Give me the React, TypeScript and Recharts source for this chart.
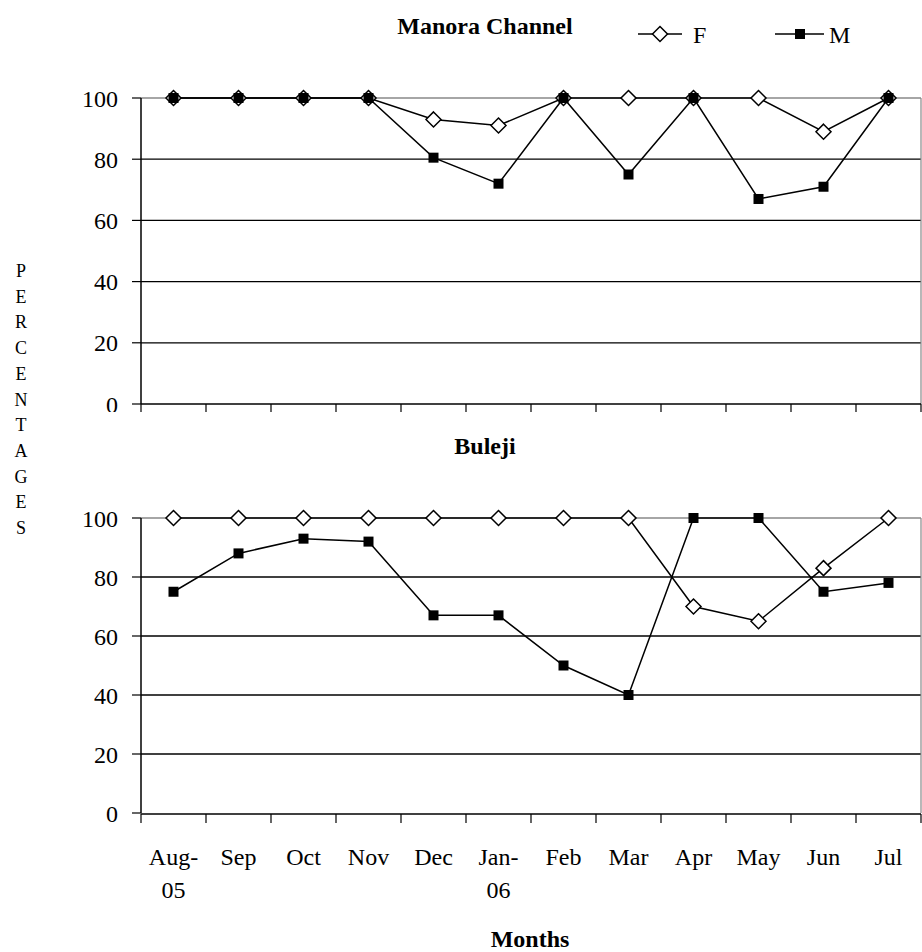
import React from 'react';
import { LineChart, Line, XAxis, YAxis, ReferenceLine } from 'recharts';

const months = ['Aug-\n05', 'Sep', 'Oct', 'Nov', 'Dec', 'Jan-\n06', 'Feb', 'Mar', 'Apr', 'May', 'Jun', 'Jul'];
const manoraF = [100, 100, 100, 100, 93, 91, 100, 100, 100, 100, 89, 100];
const manoraM = [100, 100, 100, 100, 80.5, 72, 100, 75, 100, 67, 71, 100];
const bulejiF = [100, 100, 100, 100, 100, 100, 100, 100, 70, 65, 83, 100];
const bulejiM = [75, 88, 93, 92, 67, 67, 50, 40, 100, 100, 75, 78];
const yTicks = [0, 20, 40, 60, 80, 100];
const gridValues = [20, 40, 60, 80];
const topValue = 100;
const boundaryTicks = months.map((_, i) => i).concat([months.length]);
const labelTicks = months.map((_, i) => i + 0.5);
const yLabel = 'PERCENTAGES';

const FONT = '"Liberation Serif", "Times New Roman", serif';

const build = (f: number[], m: number[]) =>
  months.map((label, i) => ({ x: i + 0.5, label, F: f[i], M: m[i] }));

const Diamond = (props: any) => {
  const { cx, cy, index } = props;
  if (cx == null || cy == null) return <g key={'d' + index} />;
  const r = 7.5;
  return (
    <path
      key={'d' + index}
      d={`M${cx},${cy - r} L${cx + r},${cy} L${cx},${cy + r} L${cx - r},${cy} Z`}
      fill="#fff"
      stroke="#000"
      strokeWidth={1.5}
    />
  );
};

const Square = (props: any) => {
  const { cx, cy, index } = props;
  if (cx == null || cy == null) return <g key={'s' + index} />;
  const r = 5;
  return <rect key={'s' + index} x={cx - r} y={cy - r} width={2 * r} height={2 * r} fill="#000" />;
};

const MonthTick = (props: any) => {
  const { x, y, payload } = props;
  const idx = Math.round(payload.value - 0.5);
  const lines = (months[idx] || '').split('\n');
  return (
    <text x={x} y={y} textAnchor="middle" fill="#000" fontSize={24} fontFamily={FONT}>
      {lines.map((l, i) => (
        <tspan key={i} x={x} dy={i === 0 ? 52 : 33}>
          {l}
        </tspan>
      ))}
    </text>
  );
};

function Panel({ data, height, margin, showLabels }: any) {
  return (
    <LineChart width={922} height={height} data={data} margin={margin}>
      {showLabels && (
        <XAxis
          xAxisId="l"
          dataKey="x"
          type="number"
          domain={[0, months.length]}
          ticks={labelTicks}
          tick={<MonthTick />}
          tickSize={0}
          tickMargin={0}
          axisLine={false}
          tickLine={false}
          height={1}
          interval={0}
        />
      )}
      <XAxis
        xAxisId="t"
        dataKey="x"
        type="number"
        domain={[0, months.length]}
        ticks={boundaryTicks}
        tickFormatter={() => ''}
        tickSize={9}
        height={10}
        axisLine={{ stroke: '#000', strokeWidth: 1.5 }}
        tickLine={{ stroke: '#000', strokeWidth: 1.2 }}
        interval={0}
      />
      <YAxis
        type="number"
        domain={[0, 100]}
        ticks={yTicks}
        interval={0}
        width={60}
        tickSize={9}
        tickMargin={14}
        axisLine={{ stroke: '#000', strokeWidth: 1.5 }}
        tickLine={{ stroke: '#000', strokeWidth: 1.2 }}
        tick={{ fill: '#000', fontSize: 24, fontFamily: FONT }}
      />
      {gridValues.map((v) => (
        <ReferenceLine key={v} xAxisId="t" y={v} stroke="#000" strokeWidth={1.3} />
      ))}
      <ReferenceLine xAxisId="t" y={topValue} stroke="#888" strokeWidth={1.5} />
      <ReferenceLine xAxisId="t" x={months.length} stroke="#888" strokeWidth={1.2} />
      <Line
        xAxisId="t"
        dataKey="F"
        stroke="#000"
        strokeWidth={1.5}
        dot={<Diamond />}
        isAnimationActive={false}
      />
      <Line
        xAxisId="t"
        dataKey="M"
        stroke="#000"
        strokeWidth={1.5}
        dot={<Square />}
        isAnimationActive={false}
      />
    </LineChart>
  );
}

export default function App() {
  const manora = build(manoraF, manoraM);
  const buleji = build(bulejiF, bulejiM);
  return (
    <div
      style={{
        position: 'absolute',
        left: 0,
        top: 0,
        width: 922,
        height: 952,
        background: '#fff',
        overflow: 'hidden',
        fontFamily: FONT,
      }}
    >
      <div style={{ position: 'absolute', left: 0, top: 0, width: 922, height: 412, overflow: 'hidden' }}>
        <Panel data={manora} height={430} margin={{ top: 98, right: 1, bottom: 16, left: 81 }} showLabels={false} />
      </div>
      <div style={{ position: 'absolute', left: 0, top: 412, width: 922, height: 540 }}>
        <Panel data={buleji} height={540} margin={{ top: 106, right: 1, bottom: 128, left: 81 }} showLabels />
      </div>
      <svg
        width={922}
        height={952}
        style={{ position: 'absolute', left: 0, top: 0, pointerEvents: 'none' }}
      >
        <text x={485} y={34} textAnchor="middle" fontSize={24} fontWeight="bold" fontFamily={FONT} fill="#000">
          Manora Channel
        </text>
        <line x1={638} x2={682} y1={34} y2={34} stroke="#000" strokeWidth={1.5} />
        <path d="M660,26.5 L667.5,34 L660,41.5 L652.5,34 Z" fill="#fff" stroke="#000" strokeWidth={1.5} />
        <text x={693} y={43} fontSize={24} fontFamily={FONT} fill="#000">
          F
        </text>
        <line x1={775} x2={824} y1={34} y2={34} stroke="#000" strokeWidth={1.5} />
        <rect x={795} y={29} width={10} height={10} fill="#000" />
        <text x={829} y={43} fontSize={24} fontFamily={FONT} fill="#000">
          M
        </text>
        <text x={485} y={454} textAnchor="middle" fontSize={24} fontWeight="bold" fontFamily={FONT} fill="#000">
          Buleji
        </text>
        <text x={21} y={277} textAnchor="middle" fontSize={18} fontFamily={FONT} fill="#000">
          {yLabel.split('').map((c, i) => (
            <tspan key={i} x={21} dy={i === 0 ? 0 : 25.7}>
              {c}
            </tspan>
          ))}
        </text>
        <text x={530} y={947} textAnchor="middle" fontSize={24} fontWeight="bold" fontFamily={FONT} fill="#000">
          Months
        </text>
      </svg>
    </div>
  );
}
